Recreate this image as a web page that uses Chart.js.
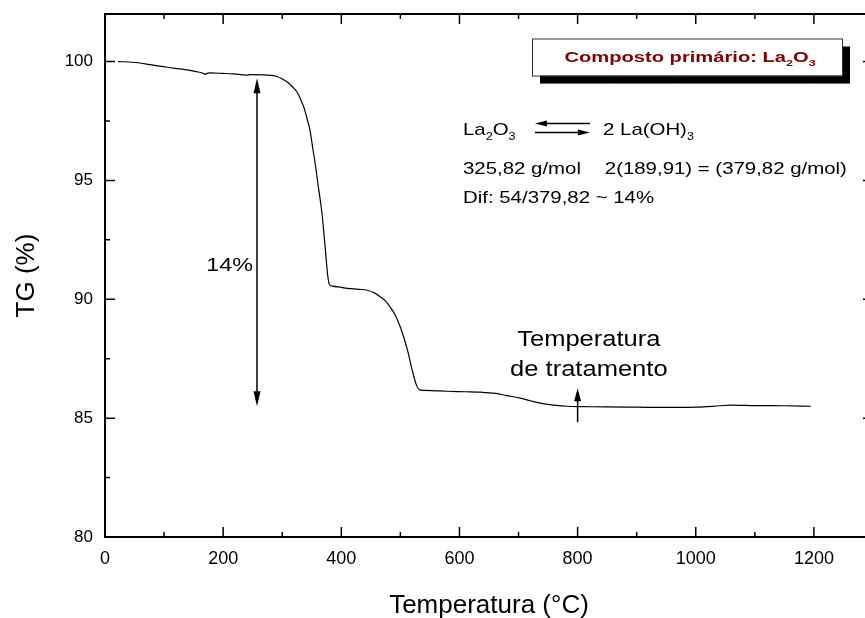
<!DOCTYPE html>
<html><head><meta charset="utf-8">
<script src="https://cdn.jsdelivr.net/npm/chart.js@4.4.1/dist/chart.umd.min.js"></script>
<style>html,body{margin:0;padding:0;background:#fff;}#wrap{width:865px;height:618px;overflow:hidden;position:relative;background:#fff;}canvas{display:block;}</style>
</head><body><div id="wrap"><canvas id="c" width="880" height="618"></canvas></div>
<script>
const temperatures = [22,47,76,105,139,160,166,170,174,178,200,217,240,246,274,291,300,308,318,325,331,337,342,347,352,357,361,365,368,373,377,380,385,400,410,430,444,456,466,475,483,492,500,506,512,520,527,532,540,560,580,610,636,658,680,703,720,737,760,783,820,850,900,960,1003,1040,1059,1100,1150,1195];
const tgValues = [100.0,99.97,99.87,99.76,99.65,99.55,99.51,99.47,99.51,99.52,99.50,99.48,99.43,99.45,99.43,99.37,99.27,99.15,98.92,98.72,98.42,98.05,97.6,97.1,96.3,95.5,94.75,94.05,93.45,92.1,91.0,90.62,90.55,90.5,90.46,90.42,90.38,90.27,90.1,89.92,89.66,89.3,88.82,88.38,87.86,87.02,86.4,86.2,86.17,86.15,86.13,86.11,86.09,86.05,85.95,85.84,85.73,85.63,85.55,85.50,85.48,85.47,85.46,85.45,85.46,85.52,85.55,85.53,85.52,85.50];
const xTicks = [0,200,400,600,800,1000,1200];
const xMinorTicks = [100,300,500,700,900,1100];
const yTicks = [80,85,90,95,100];
const yMinorTicks = [82.5,87.5,92.5,97.5];
const xTitle = 'Temperatura (°C)';
const yTitle = 'TG (%)';

const FAM = '"Liberation Sans", Arial, Helvetica, sans-serif';

function rich(ctx, x, y, parts, size, sx, align, weight, color) {
  ctx.save();
  ctx.translate(x, y);
  ctx.scale(sx, 1);
  ctx.fillStyle = color || '#000';
  ctx.textBaseline = 'alphabetic';
  ctx.textAlign = 'left';
  let w = 0;
  const ws = parts.map(p => {
    const fs = p[1] ? size * 0.62 : size;
    ctx.font = (weight || 'normal') + ' ' + fs + 'px ' + FAM;
    const m = ctx.measureText(p[0]).width;
    w += m;
    return m;
  });
  let cx = align === 'center' ? -w / 2 : (align === 'right' ? -w : 0);
  parts.forEach((p, i) => {
    const fs = p[1] ? size * 0.62 : size;
    ctx.font = (weight || 'normal') + ' ' + fs + 'px ' + FAM;
    ctx.fillText(p[0], cx, p[1] ? size * 0.28 : 0);
    cx += ws[i];
  });
  ctx.restore();
}

function head(ctx, tx, ty, dx, dy, len, hw) {
  const px = -dy, py = dx;
  ctx.beginPath();
  ctx.moveTo(tx, ty);
  ctx.lineTo(tx - dx * len + px * hw, ty - dy * len + py * hw);
  ctx.lineTo(tx - dx * len - px * hw, ty - dy * len - py * hw);
  ctx.closePath();
  ctx.fill();
}

const annot = {
  id: 'annot',
  afterDraw(chart) {
    const {ctx, chartArea: a, scales: {x, y}} = chart;
    const X = v => x.getPixelForValue(v), Y = v => y.getPixelForValue(v);
    ctx.save();
    ctx.strokeStyle = '#000';
    ctx.fillStyle = '#000';
    ctx.lineWidth = 2;
    ctx.strokeRect(a.left, a.top, a.right - a.left, a.bottom - a.top);
    ctx.lineWidth = 1.5;
    ctx.beginPath();
    xTicks.forEach(v => { const p = X(v); ctx.moveTo(p, a.bottom); ctx.lineTo(p, a.bottom - 10); ctx.moveTo(p, a.top); ctx.lineTo(p, a.top + 10); });
    xMinorTicks.forEach(v => { const p = X(v); ctx.moveTo(p, a.bottom); ctx.lineTo(p, a.bottom - 5); ctx.moveTo(p, a.top); ctx.lineTo(p, a.top + 5); });
    yTicks.forEach(v => { const p = Y(v); ctx.moveTo(a.left, p); ctx.lineTo(a.left + 10, p); ctx.moveTo(a.right, p); ctx.lineTo(a.right - 10, p); });
    yMinorTicks.forEach(v => { const p = Y(v); ctx.moveTo(a.left, p); ctx.lineTo(a.left + 5, p); ctx.moveTo(a.right, p); ctx.lineTo(a.right - 5, p); });
    ctx.stroke();

    const bl = X(722.8), br = X(1247.5), bt = Y(100.97), bb = Y(99.41);
    ctx.fillStyle = '#000';
    ctx.fillRect(bl + 8, bt + 8, br - bl, bb - bt);
    ctx.fillStyle = '#fff';
    ctx.fillRect(bl, bt, br - bl, bb - bt);
    ctx.lineWidth = 1;
    ctx.strokeStyle = '#333';
    ctx.strokeRect(bl + 0.5, bt + 0.5, br - bl, bb - bt);
    rich(ctx, (bl + br) / 2 + 3, Y(100.0), [['Composto primário: La'], ['2', 1], ['O'], ['3', 1]], 15.5, 1.3, 'center', 'bold', '#800000');

    ctx.fillStyle = '#000';
    rich(ctx, X(606), Y(96.89), [['La'], ['2', 1], ['O'], ['3', 1]], 17, 1.2, 'left');
    rich(ctx, X(843), Y(96.89), [['2 La(OH)'], ['3', 1]], 17, 1.2, 'left');
    ctx.strokeStyle = '#000'; ctx.fillStyle = '#000'; ctx.lineWidth = 1.5;
    const a1 = X(727.8), a2 = X(820.9), ya = Y(97.39), yb = Y(97.02);
    ctx.beginPath(); ctx.moveTo(a1 + 6, ya); ctx.lineTo(a2, ya); ctx.moveTo(a1, yb); ctx.lineTo(a2 - 6, yb); ctx.stroke();
    head(ctx, a1, ya, -1, 0, 12, 3);
    head(ctx, a2, yb, 1, 0, 12, 3);

    rich(ctx, X(606), Y(95.25), [['325,82 g/mol']], 17, 1.2, 'left');
    rich(ctx, X(846), Y(95.25), [['2(189,91) = (379,82 g/mol)']], 17, 1.2, 'left');
    rich(ctx, X(606), Y(94.03), [['Dif: 54/379,82 ~ 14%']], 17, 1.2, 'left');

    const dx = X(257.3), d1 = Y(99.3), d2 = Y(85.5);
    ctx.lineWidth = 1.5;
    ctx.beginPath(); ctx.moveTo(dx, d1 + 8); ctx.lineTo(dx, d2 - 8); ctx.stroke();
    head(ctx, dx, d1, 0, -1, 15, 3.5);
    head(ctx, dx, d2, 0, 1, 15, 3.5);
    rich(ctx, X(250.5), Y(91.18), [['14%']], 18, 1.3, 'right');

    rich(ctx, X(819), Y(88.03), [['Temperatura']], 22, 1.16, 'center');
    rich(ctx, X(819), Y(86.76), [['de tratamento']], 22, 1.16, 'center');
    const tx = X(800), t1 = Y(84.83), t2 = Y(86.26);
    ctx.beginPath(); ctx.moveTo(tx, t1); ctx.lineTo(tx, t2 + 8); ctx.stroke();
    head(ctx, tx, t2, 0, -1, 13, 3.5);
    ctx.restore();
  }
};

new Chart(document.getElementById('c'), {
  type: 'line',
  data: {
    datasets: [{
      data: temperatures.map((t, i) => ({x: t, y: tgValues[i]})),
      borderColor: '#000', borderWidth: 1.2, pointRadius: 0, fill: false,
      cubicInterpolationMode: 'monotone'
    }]
  },
  options: {
    responsive: false, animation: false, devicePixelRatio: 1,
    layout: {padding: {left: 0, top: 14, right: 7, bottom: 0}},
    plugins: {legend: {display: false}, tooltip: {enabled: false}},
    scales: {
      x: {
        type: 'linear', min: 0, max: 1300,
        afterBuildTicks: s => { s.ticks = xTicks.map(v => ({value: v})); },
        afterFit: s => { s.height = 81; s.paddingLeft = 0; s.paddingRight = 0; },
        grid: {display: false, drawTicks: false}, border: {display: false},
        ticks: {font: {family: FAM, size: 18}, color: '#000', padding: 11, maxRotation: 0, autoSkip: false, callback: v => String(v)},
        title: {display: true, text: xTitle, color: '#000', font: {family: FAM, size: 26, lineHeight: 0.92}, padding: {top: 0, bottom: 0}}
      },
      y: {
        type: 'linear', min: 80, max: 102,
        afterBuildTicks: s => { s.ticks = yTicks.map(v => ({value: v})); },
        afterFit: s => { s.width = 105; s.paddingTop = 0; s.paddingBottom = 0; },
        grid: {display: false, drawTicks: false}, border: {display: false},
        ticks: {font: {family: FAM, size: 17}, color: '#000', padding: 12, callback: v => String(v)},
        title: {display: true, text: yTitle, color: '#000', font: {family: FAM, size: 26, lineHeight: 1}, padding: {top: 14, bottom: 0}}
      }
    }
  },
  plugins: [annot]
});
</script></body></html>
